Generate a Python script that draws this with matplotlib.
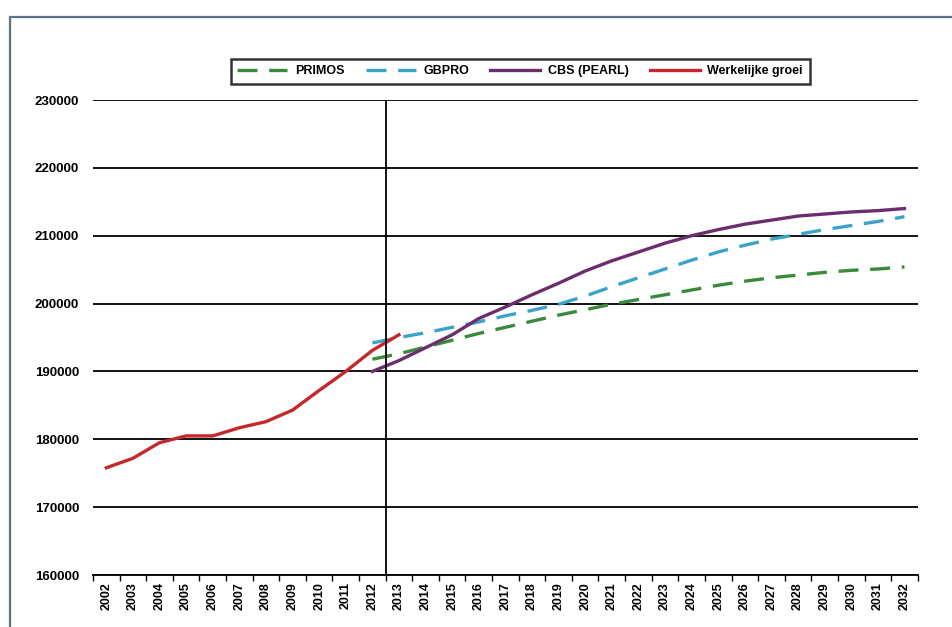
import numpy as np
import matplotlib.pyplot as plt
from matplotlib.patches import Rectangle

years = [str(y) for y in range(2002, 2033)]

# werkelijke groei 2002-2013
actual = [175800, 177200, 179500, 180500, 180500, 181700, 182600, 184300,
          187200, 190000, 193100, 195400]
# prognoses 2012-2032
primos = [191800, 192600, 193600, 194600, 195600, 196500, 197400, 198300,
          199100, 199900, 200600, 201300, 202000, 202700, 203300, 203800,
          204200, 204600, 204900, 205100, 205400]
gbpro = [194200, 195000, 195700, 196500, 197300, 198200, 199000, 199900,
         201100, 202500, 203800, 205100, 206400, 207600, 208600, 209500,
         210200, 210900, 211500, 212100, 212800]
cbs = [190000, 191600, 193500, 195400, 197800, 199500, 201300, 203000,
       204800, 206300, 207600, 208900, 210000, 210900, 211700, 212300,
       212900, 213200, 213500, 213700, 214000]

x_all = np.arange(len(years))
x_act = x_all[:len(actual)]
x_proj = x_all[10:]

plt.rcParams['font.family'] = ['Liberation Sans', 'DejaVu Sans']

fig = plt.figure(figsize=(9.52, 6.27), dpi=100)
ax = fig.add_axes([0.0977, 0.0829, 0.8663, 0.7576])

# outer frame
fig.patches.append(Rectangle((10 / 952, -0.05), 1.0, 1 - 17 / 627 + 0.05,
                             transform=fig.transFigure, fill=False,
                             edgecolor='#5b7383', linewidth=1.6))

ax.plot(x_proj, primos, color='#3a8a3e', lw=2.4, dashes=(6, 3.5), label='PRIMOS')
ax.plot(x_proj, gbpro, color='#3ba3c9', lw=2.4, dashes=(6, 3.5), label='GBPRO')
ax.plot(x_proj, cbs, color='#6b2d6e', lw=2.4, label='CBS (PEARL)')
ax.plot(x_act, actual, color='#c4282b', lw=2.4, label='Werkelijke groei')

ax.axvline(10.5, color='black', lw=1.3)

ax.set_xlim(-0.5, len(years) - 0.5)
ax.set_ylim(160000, 230000)
ax.set_yticks(np.arange(160000, 230001, 10000))
ax.yaxis.grid(True, color='black', lw=1.3)
ax.set_axisbelow(True)
for s in ['left', 'right', 'top']:
    ax.spines[s].set_visible(False)
ax.spines['bottom'].set_linewidth(1.3)
ax.tick_params(axis='y', length=0, pad=10, labelsize=9.5)
for t in ax.get_yticklabels():
    t.set_fontweight('bold')

ax.set_xticks(np.arange(-0.5, len(years), 1.0))
ax.set_xticklabels([])
ax.set_xticks(x_all, minor=True)
ax.set_xticklabels(years, minor=True, rotation=90, fontsize=9, fontweight='bold')
ax.tick_params(axis='x', which='major', length=4, width=1, direction='out')
ax.tick_params(axis='x', which='minor', length=0, pad=5)

leg = ax.legend(loc='lower center', bbox_to_anchor=(0.518, 1.02), ncol=4,
                frameon=True, fancybox=False, fontsize=9, handlelength=4.0,
                columnspacing=1.7, borderpad=0.55, handletextpad=0.6)
leg.get_frame().set_edgecolor('black')
leg.get_frame().set_linewidth(1.8)
for t in leg.get_texts():
    t.set_fontweight('bold')

fig.savefig('out.png', dpi=100)
